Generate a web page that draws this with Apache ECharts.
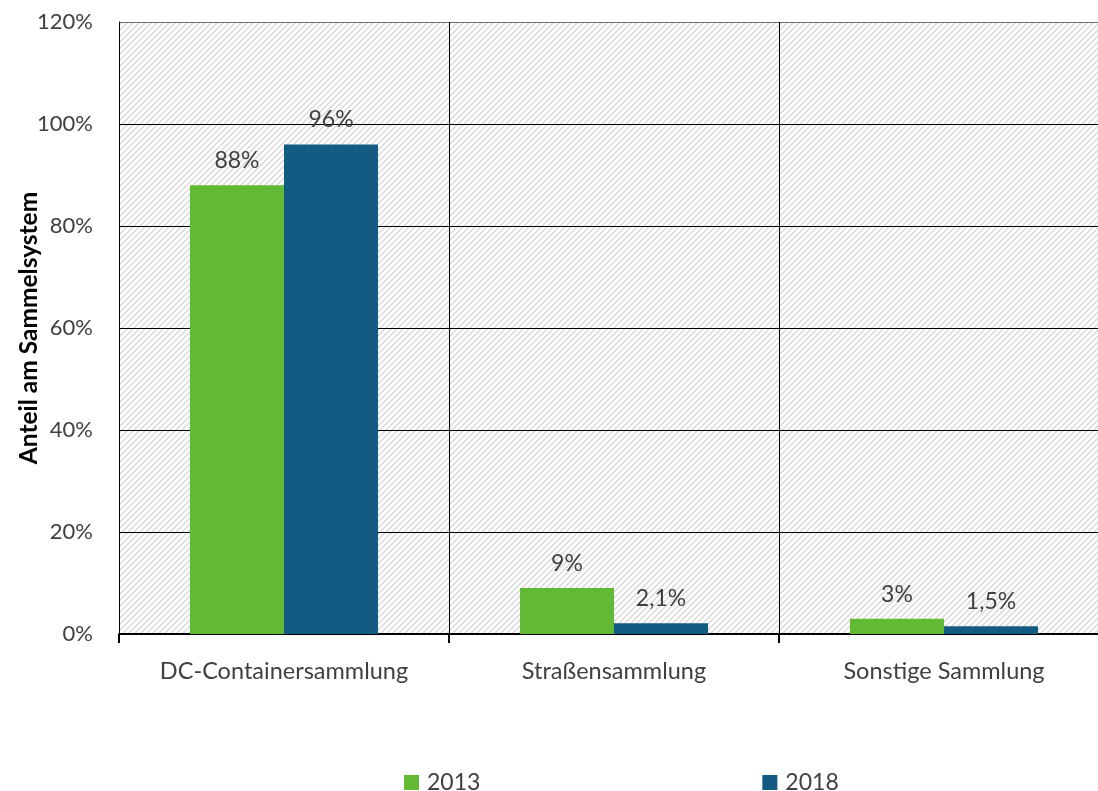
<!DOCTYPE html>
<html>
<head>
<meta charset="utf-8">
<script src="https://cdn.jsdelivr.net/npm/echarts@6/dist/echarts.min.js"></script>
<style>
  html, body { margin: 0; padding: 0; background: #ffffff; }
  #chart { width: 1098px; height: 791px; }
</style>
</head>
<body>
<div id="chart"></div>
<script>
// Sammelsysteme: Anteil je Jahr
const categories = ['DC-Containersammlung', 'Straßensammlung', 'Sonstige Sammlung'];
const years = ['2013', '2018'];
const values2013 = [88, 9, 3];
const values2018 = [96, 2.1, 1.5];
const yTicks = [0, 20, 40, 60, 80, 100, 120];

const FONT = 'Lato';
const TEXT = '#404040';

// diagonal hatch tile for the plot background
function hatchTile() {
  const s = 6;
  const c = document.createElement('canvas');
  c.width = s; c.height = s;
  const g = c.getContext('2d');
  g.fillStyle = '#ffffff';
  g.fillRect(0, 0, s, s);
  g.strokeStyle = '#d9d9d9';
  g.lineWidth = 1.5;
  g.beginPath();
  g.moveTo(-1, s + 1); g.lineTo(s + 1, -1);
  g.moveTo(-1, 1); g.lineTo(1, -1);
  g.moveTo(s - 1, s + 1); g.lineTo(s + 1, s - 1);
  g.stroke();
  return c;
}

function fmt(v) {
  return String(v).replace('.', ',') + '%';
}

const chart = echarts.init(document.getElementById('chart'), null, { renderer: 'canvas' });

chart.setOption({
  animation: false,
  textStyle: { fontFamily: FONT },
  grid: {
    left: 119, top: 22, width: 990, height: 612,
    outerBoundsMode: 'none',
    containLabel: false,
    show: true,
    backgroundColor: { image: hatchTile(), repeat: 'repeat' },
    borderWidth: 0
  },
  legend: {
    left: 404, top: 771,
    padding: 0,
    itemWidth: 15, itemHeight: 15, itemGap: 282,
    icon: 'rect',
    textStyle: { fontFamily: FONT, fontSize: 23, color: TEXT, padding: [0, 0, 0, 3] },
    data: years
  },
  xAxis: {
    type: 'category',
    data: categories,
    axisLine: { show: true, lineStyle: { color: '#000', width: 2 } },
    axisTick: { show: true, length: 9, lineStyle: { color: '#000', width: 2 } },
    axisLabel: { fontFamily: FONT, fontSize: 23.5, color: TEXT, margin: 25 },
    splitLine: { show: true, lineStyle: { color: '#000', width: 1 } }
  },
  yAxis: {
    type: 'value',
    min: yTicks[0], max: yTicks[yTicks.length - 1], interval: 20,
    name: 'Anteil am Sammelsystem',
    nameLocation: 'middle',
    nameRotate: 90,
    nameGap: 77,
    nameMoveOverlap: false,
    nameTextStyle: { fontFamily: FONT, fontSize: 24.5, fontWeight: 'bold', color: '#000' },
    axisLine: { show: true, lineStyle: { color: '#000', width: 1 } },
    axisTick: { show: false },
    axisLabel: {
      fontFamily: FONT, fontSize: 22, color: TEXT, margin: 26,
      formatter: v => v + '%'
    },
    splitLine: {
      show: true,
      lineStyle: { color: ['#000', '#000', '#000', '#000', '#000', '#000', '#6e6e6e'], width: 1 }
    }
  },
  series: [
    {
      name: years[0], type: 'bar', data: values2013,
      barGap: '0%', barCategoryGap: '43%',
      itemStyle: { color: '#62b934' },
      label: {
        show: true, position: 'top', distance: 13,
        fontFamily: FONT, fontSize: 23, color: TEXT,
        formatter: p => fmt(p.value)
      }
    },
    {
      name: years[1], type: 'bar', data: values2018,
      itemStyle: { color: '#135b82' },
      label: {
        show: true, position: 'top', distance: 13,
        fontFamily: FONT, fontSize: 23, color: TEXT,
        formatter: p => fmt(p.value)
      }
    }
  ]
});
</script>
</body>
</html>
